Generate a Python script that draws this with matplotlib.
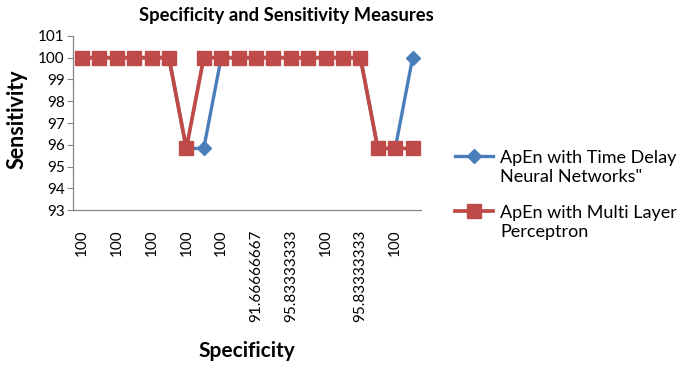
# 特異度と感度の折れ線グラフ（2手法の比較）
import numpy as np
from matplotlib import pyplot as plt
from matplotlib.legend_handler import HandlerLine2D

plt.rcParams['font.family'] = ['Lato', 'DejaVu Sans']

# データ
specificity = ["100", "100", "100", "100", "100", "100", "100", "100", "100", "100",
               "91.66666667", "100", "95.83333333", "100", "100", "100", "95.83333333", "100",
               "100", "100"]
tdnn = [100, 100, 100, 100, 100, 100, 95.83333333, 95.83333333, 100, 100,
        100, 100, 100, 100, 100, 100, 100, 95.83333333, 95.83333333, 100]
mlp = [100, 100, 100, 100, 100, 100, 95.83333333, 100, 100, 100,
       100, 100, 100, 100, 100, 100, 100, 95.83333333, 95.83333333, 95.83333333]
names = ['ApEn with Time Delay\nNeural Networks"', 'ApEn with Multi Layer\nPerceptron']


# 凡例の線を1行目の高さにそろえる
class FirstLineHandler(HandlerLine2D):
    def create_artists(self, legend, orig_handle, xdescent, ydescent, width, height, fontsize, trans):
        arts = super().create_artists(legend, orig_handle, xdescent, ydescent, width, height, fontsize, trans)
        for a in arts:
            a.set_ydata(np.asarray(a.get_ydata()) + 0.65*fontsize)
        return arts


xx = np.arange(len(specificity))

fig = plt.figure(figsize=(6.84, 3.70), dpi=100)
ax = fig.add_axes([0.107, 0.432, 0.509, 0.471])

l1, = ax.plot(xx, tdnn, color="#4A7EBB", linewidth=2.4, marker="D", markersize=7.5, label=names[0])
l2, = ax.plot(xx, mlp, color="#BE4B48", linewidth=2.7, marker="s", markersize=10.5, label=names[1])

ax.set_xlim(-0.5, len(xx) - 0.5)
ax.set_ylim(93, 101)
ax.set_yticks(np.arange(93, 102, 1))
ax.set_xticks(xx[::2])
ax.set_xticklabels(specificity[::2], rotation=90, fontsize=11)
ax.tick_params(axis="y", labelsize=11, length=4, color="#868686", pad=2)
ax.tick_params(axis="x", length=0, pad=14)

for side in ["top", "right"]:
    ax.spines[side].set_visible(False)
for side in ["left", "bottom"]:
    ax.spines[side].set_color("#868686")
    ax.spines[side].set_linewidth(0.9)

ax.set_title("Specificity and Sensitivity Measures", fontsize=13.2, fontweight="bold", x=0.612, pad=11)
ax.set_ylabel("Sensitivity", fontsize=15.5, fontweight="bold")
ax.yaxis.set_label_coords(-0.13, 0.52)
ax.set_xlabel("Specificity", fontsize=15, fontweight="bold")
ax.xaxis.set_label_coords(0.5, -0.75)

leg = fig.legend(handles=[l1, l2], loc="center left", bbox_to_anchor=(0.665, 0.473), frameon=False,
                 fontsize=13, handlelength=2.1, labelspacing=1.1, handletextpad=0.4,
                 borderpad=0, borderaxespad=0,
                 handler_map={l1: FirstLineHandler(), l2: FirstLineHandler()})
for t in leg.get_texts():
    t.set_linespacing(1.25)

plt.savefig("out.png", dpi=100)
